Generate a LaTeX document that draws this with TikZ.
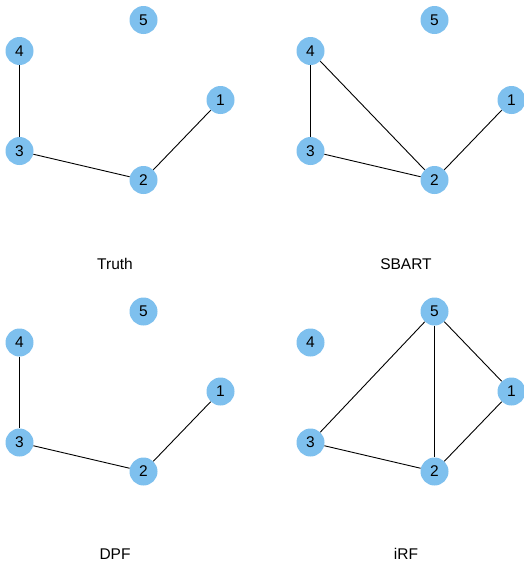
\documentclass[tikz,border=0pt]{standalone}
\usepackage{fontspec}
\setmainfont{Liberation Sans}
\definecolor{nodeblue}{HTML}{7EC0EE}
\begin{document}
\begin{tikzpicture}[x=1pt,y=-1pt,
  vtx/.style={circle,fill=nodeblue,draw=none,minimum size=28pt,inner sep=0pt,font=\fontsize{15.5}{15.5}\selectfont},
  edge/.style={draw=black,line width=0.9pt},
  lbl/.style={anchor=base,inner sep=0pt,font=\fontsize{15.5}{15.5}\selectfont}]
\useasboundingbox (0,0) rectangle (524,562);
% Panel 1: Truth
\begin{scope}[shift={(0,0)}]
\node[vtx] (a5) at (143.5,20) {5};
\node[vtx] (a4) at (19.5,51) {4};
\node[vtx] (a1) at (220.5,100) {1};
\node[vtx] (a3) at (19.5,151) {3};
\node[vtx] (a2) at (143.5,180) {2};
\node[lbl] (la) at (115,269.5) {Truth};
\end{scope}
\draw[edge] (a4) -- (a3);
\draw[edge] (a3) -- (a2);
\draw[edge] (a2) -- (a1);
% Panel 2: SBART
\begin{scope}[shift={(291,0)}]
\node[vtx] (b5) at (143.5,20) {5};
\node[vtx] (b4) at (19.5,51) {4};
\node[vtx] (b1) at (220.5,100) {1};
\node[vtx] (b3) at (19.5,151) {3};
\node[vtx] (b2) at (143.5,180) {2};
\node[lbl] (lb) at (115,269.5) {SBART};
\end{scope}
\draw[edge] (b4) -- (b3);
\draw[edge] (b4) -- (b2);
\draw[edge] (b3) -- (b2);
\draw[edge] (b2) -- (b1);
% Panel 3: DPF
\begin{scope}[shift={(0,291.5)}]
\node[vtx] (c5) at (143.5,20) {5};
\node[vtx] (c4) at (19.5,51) {4};
\node[vtx] (c1) at (220.5,100) {1};
\node[vtx] (c3) at (19.5,151) {3};
\node[vtx] (c2) at (143.5,180) {2};
\node[lbl] (lc) at (115,268) {DPF};
\end{scope}
\draw[edge] (c4) -- (c3);
\draw[edge] (c3) -- (c2);
\draw[edge] (c2) -- (c1);
% Panel 4: iRF
\begin{scope}[shift={(291,291.5)}]
\node[vtx] (d5) at (143.5,20) {5};
\node[vtx] (d4) at (19.5,51) {4};
\node[vtx] (d1) at (220.5,100) {1};
\node[vtx] (d3) at (19.5,151) {3};
\node[vtx] (d2) at (143.5,180) {2};
\node[lbl] (ld) at (115,268) {iRF};
\end{scope}
\draw[edge] (d5) -- (d3);
\draw[edge] (d5) -- (d2);
\draw[edge] (d5) -- (d1);
\draw[edge] (d3) -- (d2);
\draw[edge] (d2) -- (d1);
\end{tikzpicture}
\end{document}
